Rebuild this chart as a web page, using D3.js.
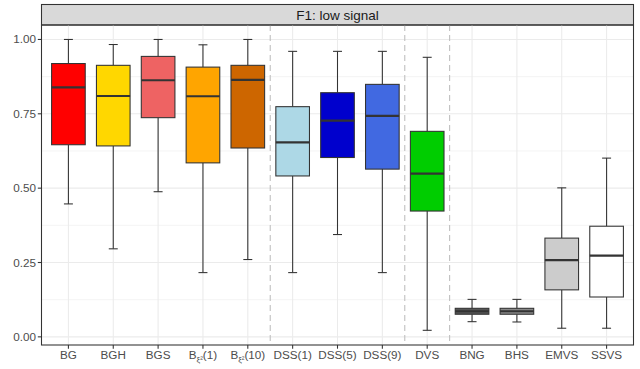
<!DOCTYPE html>
<html><head><meta charset="utf-8">
<script src="https://cdn.jsdelivr.net/npm/d3@7"></script>
<style>body{margin:0;background:#fff;} text{font-family:"Liberation Sans",Arial,sans-serif;}</style>
</head><body><svg id="c" width="640" height="369"></svg>
<script>
const categories = ["BG","BGH","BGS","Bxi1","Bxi10","DSS(1)","DSS(5)","DSS(9)","DVS","BNG","BHS","EMVS","SSVS"];
const labelMain = ["BG","BGH","BGS","B","B","DSS(1)","DSS(5)","DSS(9)","DVS","BNG","BHS","EMVS","SSVS"];
const labelSub  = ["","","","ξ²","ξ²","","","","","","","",""];
const labelTail = ["","","","(1)","(10)","","","","","","","",""];
const whiskerLow  = [0.447,0.296,0.488,0.216,0.260,0.216,0.344,0.216,0.022,0.051,0.050,0.029,0.029];
const q1          = [0.646,0.642,0.737,0.585,0.635,0.541,0.603,0.564,0.423,0.076,0.076,0.158,0.134];
const medians     = [0.839,0.810,0.863,0.809,0.864,0.654,0.727,0.743,0.549,0.086,0.086,0.258,0.273];
const q3          = [0.919,0.913,0.943,0.907,0.913,0.774,0.821,0.849,0.691,0.096,0.096,0.332,0.372];
const whiskerHigh = [1.000,0.983,1.000,0.982,1.000,0.960,0.960,0.960,0.940,0.126,0.126,0.501,0.601];
const fills = ["#FF0000","#FFD700","#EE6363","#FFA500","#CD6600","#ADD8E6","#0000CD","#4169E1","#00CD00","#555555","#888888","#CCCCCC","#FFFFFF"];
const yTicks = [0,0.25,0.5,0.75,1.0];
const yMinor = [0.125,0.375,0.625,0.875];
const separators = [4.5,7.5,8.5];
const title = "F1: low signal";

const svg = d3.select("#c");
const L=41.5, R=633.5, T=25, B=345, stripTop=4.5;
const idx = d3.range(categories.length);
const x = d3.scaleLinear().domain([-0.6, categories.length-1+0.6]).range([L,R]);
const y = d3.scaleLinear().domain([-0.0274,1.0486]).range([B,T]);
const bw = 0.75*(x(1)-x(0));
const cap = 0.2*(x(1)-x(0));

// strip
svg.append("rect").attr("x",L).attr("y",stripTop).attr("width",R-L).attr("height",T-stripTop)
  .attr("fill","#D9D9D9").attr("stroke","#333").attr("stroke-width",1.07);
svg.append("text").attr("x",(L+R)/2).attr("y",19.5).attr("text-anchor","middle")
  .attr("font-size",13.5).attr("fill","#1A1A1A").text(title);

// grid
const g = svg.append("g");
g.selectAll(".mn").data(yMinor).join("line").attr("x1",L).attr("x2",R)
  .attr("y1",d=>y(d)).attr("y2",d=>y(d)).attr("stroke","#EBEBEB").attr("stroke-width",0.53);
g.selectAll(".mj").data(yTicks).join("line").attr("x1",L).attr("x2",R)
  .attr("y1",d=>y(d)).attr("y2",d=>y(d)).attr("stroke","#EBEBEB").attr("stroke-width",1.07);
g.selectAll(".vx").data(idx).join("line").attr("y1",T).attr("y2",B)
  .attr("x1",d=>x(d)).attr("x2",d=>x(d)).attr("stroke","#EBEBEB").attr("stroke-width",1.07);

// separators
g.selectAll(".sep").data(separators).join("line").attr("y1",T).attr("y2",B)
  .attr("x1",d=>x(d)).attr("x2",d=>x(d)).attr("stroke","#BEBEBE").attr("stroke-width",1.07)
  .attr("stroke-dasharray","6,4");

// boxes
const bx = svg.append("g");
idx.forEach(i=>{
  const cx = x(i);
  const col = "#333333";
  bx.append("line").attr("x1",cx).attr("x2",cx).attr("y1",y(q3[i])).attr("y2",y(whiskerHigh[i])).attr("stroke",col).attr("stroke-width",1.07);
  bx.append("line").attr("x1",cx).attr("x2",cx).attr("y1",y(q1[i])).attr("y2",y(whiskerLow[i])).attr("stroke",col).attr("stroke-width",1.07);
  bx.append("line").attr("x1",cx-cap/2).attr("x2",cx+cap/2).attr("y1",y(whiskerHigh[i])).attr("y2",y(whiskerHigh[i])).attr("stroke",col).attr("stroke-width",1.07);
  bx.append("line").attr("x1",cx-cap/2).attr("x2",cx+cap/2).attr("y1",y(whiskerLow[i])).attr("y2",y(whiskerLow[i])).attr("stroke",col).attr("stroke-width",1.07);
  bx.append("rect").attr("x",cx-bw/2).attr("width",bw).attr("y",y(q3[i])).attr("height",y(q1[i])-y(q3[i]))
    .attr("fill",fills[i]).attr("stroke",col).attr("stroke-width",1.07);
  bx.append("line").attr("x1",cx-bw/2).attr("x2",cx+bw/2).attr("y1",y(medians[i])).attr("y2",y(medians[i])).attr("stroke",col).attr("stroke-width",2.1);
});

// panel border
svg.append("rect").attr("x",L).attr("y",T).attr("width",R-L).attr("height",B-T)
  .attr("fill","none").attr("stroke","#333").attr("stroke-width",1.07);

// y axis
const ya = svg.append("g");
yTicks.forEach(v=>{
  ya.append("line").attr("x1",L-3.7).attr("x2",L).attr("y1",y(v)).attr("y2",y(v)).attr("stroke","#333").attr("stroke-width",1.07);
  ya.append("text").attr("x",L-5.5).attr("y",y(v)+4).attr("text-anchor","end").attr("font-size",11.7).attr("fill","#4D4D4D").text(d3.format(".2f")(v));
});
// x axis
const xa = svg.append("g");
idx.forEach(i=>{
  xa.append("line").attr("x1",x(i)).attr("x2",x(i)).attr("y1",B).attr("y2",B+3.7).attr("stroke","#333").attr("stroke-width",1.07);
  const t = xa.append("text").attr("x",x(i)).attr("y",B+13.5).attr("text-anchor","middle").attr("font-size",11.7).attr("fill","#4D4D4D");
  t.append("tspan").text(labelMain[i]);
  if(labelSub[i]){
    t.append("tspan").attr("font-size",8).attr("dy",3).text(labelSub[i]);
    t.append("tspan").attr("dy",-3).text(labelTail[i]);
  }
});
</script></body></html>
